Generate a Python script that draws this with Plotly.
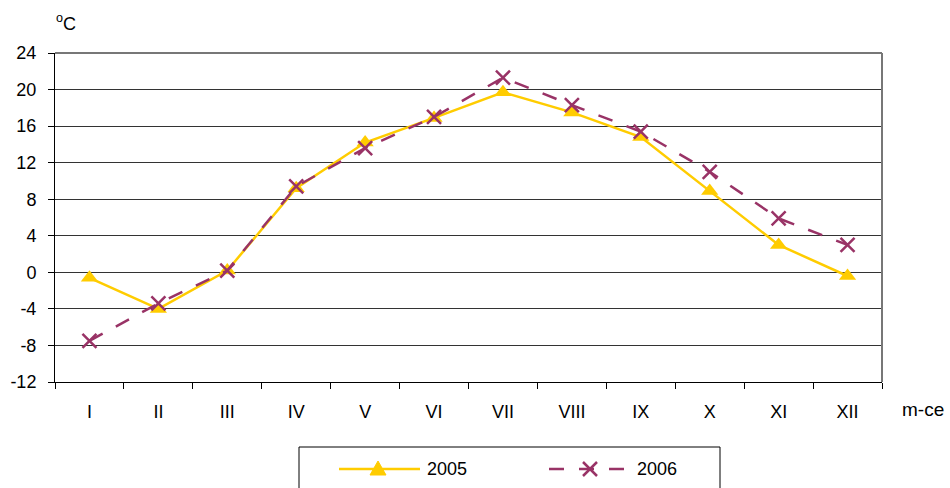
import plotly.graph_objects as go

months = ["I", "II", "III", "IV", "V", "VI", "VII", "VIII", "IX", "X", "XI", "XII"]
t2005 = [-0.6, -4.0, 0.2, 9.2, 14.2, 16.9, 19.7, 17.5, 14.8, 8.9, 3.0, -0.4]
t2006 = [-7.5, -3.4, 0.2, 9.4, 13.6, 17.0, 21.3, 18.3, 15.4, 11.0, 5.9, 3.0]
yticks = [-12, -8, -4, 0, 4, 8, 12, 16, 20, 24]
series_names = ["2005", "2006"]

FONT = "Liberation Sans, Arial, sans-serif"
C05 = "#FFCC00"
C06 = "#993366"

# plot area in pixels (for converting legend layout positions to paper coords)
L, R, T, B = 55, 882, 53, 382
W, H = R - L, B - T


def px(x):
    return (x - L) / W


def py(y):
    return (B - y) / H


fig = go.Figure()
fig.add_trace(go.Scatter(
    x=months, y=t2005, name=series_names[0], mode="lines+markers",
    line=dict(color=C05, width=2.5),
    marker=dict(symbol="triangle-up", size=15, color=C05),
))
fig.add_trace(go.Scatter(
    x=months, y=t2006, name=series_names[1], mode="lines+markers",
    line=dict(color=C06, width=2.5, dash="longdash"),
    marker=dict(symbol="x-thin-open", size=14, color=C06,
                line=dict(color=C06, width=2.5)),
))

# custom legend (box, samples, labels)
leg_y = py(469)
shapes = [
    dict(type="line", xref="paper", yref="paper", x0=1, x1=1, y0=0, y1=1,
         line=dict(color="#777777", width=2)),
    dict(type="line", xref="paper", yref="paper", x0=0, x1=1, y0=1, y1=1,
         line=dict(color="#777777", width=2)),
    dict(type="rect", xref="paper", yref="paper", x0=px(299), x1=px(720),
         y0=py(500), y1=py(447), line=dict(color="black", width=1),
         fillcolor="white", layer="below"),
    dict(type="line", xref="paper", yref="paper", x0=px(339), x1=px(420),
         y0=leg_y, y1=leg_y, line=dict(color=C05, width=2.5)),
    dict(type="path", xref="paper", yref="paper", xsizemode="pixel",
         ysizemode="pixel", xanchor=px(378), yanchor=leg_y,
         path="M -8 -6 L 8 -6 L 0 8 Z", fillcolor=C05,
         line=dict(color=C05, width=1)),
    dict(type="line", xref="paper", yref="paper", x0=px(549), x1=px(625),
         y0=leg_y, y1=leg_y, line=dict(color=C06, width=2.5, dash="longdash")),
    dict(type="line", xref="paper", yref="paper", xsizemode="pixel",
         ysizemode="pixel", xanchor=px(590), yanchor=leg_y,
         x0=-7, x1=7, y0=-7, y1=7, line=dict(color=C06, width=2.5)),
    dict(type="line", xref="paper", yref="paper", xsizemode="pixel",
         ysizemode="pixel", xanchor=px(590), yanchor=leg_y,
         x0=-7, x1=7, y0=7, y1=-7, line=dict(color=C06, width=2.5)),
]

annotations = [
    dict(text="<sup>o</sup>C", xref="paper", yref="paper", x=px(54), y=py(22),
         xanchor="left", yanchor="middle", showarrow=False,
         font=dict(family=FONT, size=18)),
    dict(text="m-ce", xref="paper", yref="paper", x=px(900), y=py(410),
         xanchor="left", yanchor="middle", showarrow=False,
         font=dict(family=FONT, size=19)),
    dict(text=series_names[0], xref="paper", yref="paper", x=px(425), y=leg_y,
         xanchor="left", yanchor="middle", showarrow=False,
         font=dict(family=FONT, size=18)),
    dict(text=series_names[1], xref="paper", yref="paper", x=px(635), y=leg_y,
         xanchor="left", yanchor="middle", showarrow=False,
         font=dict(family=FONT, size=18)),
]

fig.update_layout(
    width=950, height=488,
    margin=dict(l=L, r=950 - R, t=T, b=488 - B, autoexpand=False),
    paper_bgcolor="white", plot_bgcolor="white",
    font=dict(family=FONT, size=18, color="black"),
    showlegend=False,
    xaxis=dict(
        type="category", range=[-0.5, len(months) - 0.5],
        tickson="boundaries", ticks="outside", ticklen=6,
        tickcolor="black", showline=True, linecolor="black", linewidth=1,
        showgrid=False, ticklabelstandoff=13, automargin=False,
    ),
    yaxis=dict(
        range=[-12, 24], tickvals=yticks, ticktext=[str(v) for v in yticks],
        ticks="outside", ticklen=6,
        tickcolor="black", showline=True, linecolor="black", linewidth=1,
        showgrid=True, gridcolor="#333333", gridwidth=1, zeroline=False,
        ticklabelstandoff=8, automargin=False,
    ),
    annotations=annotations,
    shapes=shapes,
)

fig.write_html(
    "out.html",
    config={"displayModeBar": False},
    post_script="document.body.style.margin='0';document.body.style.overflow='hidden';",
)
